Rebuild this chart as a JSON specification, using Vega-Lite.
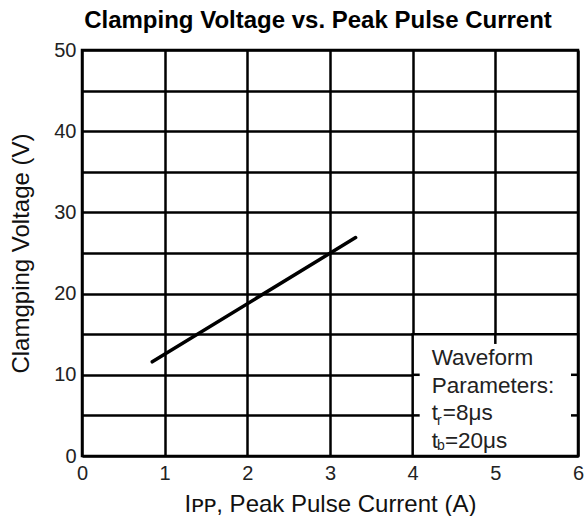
{
  "$schema": "https://vega.github.io/schema/vega-lite/v6.json",
  "width": 496,
  "height": 406,
  "autosize": {"type": "none"},
  "padding": {"left": 82, "top": 50, "right": 6, "bottom": 60},
  "background": "white",
  "config": {
    "view": {"stroke": "black", "strokeWidth": 2.5},
    "font": "Liberation Sans"
  },
  "title": {
    "text": "Clamping Voltage vs. Peak Pulse Current",
    "font": "Liberation Sans",
    "fontSize": 24,
    "fontWeight": "bold",
    "color": "black",
    "anchor": "middle",
    "dx": -12,
    "offset": 7
  },
  "layer": [
    {
      "data": {"values": [{"i": 0.85, "v": 11.6}, {"i": 3.31, "v": 26.9}]},
      "mark": {"type": "line", "color": "black", "strokeWidth": 3.5, "strokeCap": "round"},
      "encoding": {
        "x": {
          "field": "i", "type": "quantitative",
          "scale": {"domain": [0, 6], "nice": false, "zero": false},
          "axis": {
            "values": [0, 1, 2, 3, 4, 5, 6],
            "format": "d",
            "grid": true, "gridColor": "black", "gridWidth": 2.5, "gridOpacity": 1,
            "domain": false, "ticks": false,
            "labelFontSize": 20, "labelColor": "#222", "labelPadding": 7, "labelFlush": false,
            "title": "Iᴘᴘ, Peak Pulse Current (A)",
            "titleFontSize": 24, "titleFontWeight": "normal", "titleColor": "#111", "titlePadding": 9
          }
        },
        "y": {
          "field": "v", "type": "quantitative",
          "scale": {"domain": [0, 50], "nice": false, "zero": false},
          "axis": {
            "values": [0, 5, 10, 15, 20, 25, 30, 35, 40, 45, 50],
            "labelExpr": "datum.value % 10 == 0 ? datum.label : ''",
            "grid": true, "gridColor": "black", "gridWidth": 2.5, "gridOpacity": 1,
            "domain": false, "ticks": false,
            "labelFontSize": 20, "labelColor": "#222", "labelPadding": 6, "labelFlush": false,
            "title": "Clamgping Voltage (V)",
            "titleFontSize": 24, "titleFontWeight": "normal", "titleColor": "#111", "titlePadding": 20
          }
        }
      }
    },
    {
      "data": {"values": [{"x1": 4, "x2": 6, "y1": 0, "y2": 15}]},
      "mark": {"type": "rect", "fill": "white", "stroke": "black", "strokeWidth": 2.5},
      "encoding": {
        "x": {"field": "x1", "type": "quantitative"},
        "x2": {"field": "x2"},
        "y": {"field": "y1", "type": "quantitative"},
        "y2": {"field": "y2"}
      }
    },
    {
      "data": {"values": [
        {"x1": 5, "x2": 5, "y1": 15, "y2": 13.8},
        {"x1": 4, "x2": 4.085, "y1": 10, "y2": 10},
        {"x1": 4, "x2": 4.085, "y1": 5, "y2": 5},
        {"x1": 5.915, "x2": 6, "y1": 10, "y2": 10},
        {"x1": 5.915, "x2": 6, "y1": 5, "y2": 5}
      ]},
      "mark": {"type": "rule", "color": "black", "strokeWidth": 2.5},
      "encoding": {
        "x": {"field": "x1", "type": "quantitative"},
        "x2": {"field": "x2"},
        "y": {"field": "y1", "type": "quantitative"},
        "y2": {"field": "y2"}
      }
    },
    {
      "data": {"values": [
        {"t": "Waveform", "x": 4.23, "y": 11.2},
        {"t": "Parameters:", "x": 4.23, "y": 7.72},
        {"t": "t", "x": 4.23, "y": 4.4},
        {"t": "=8μs", "x": 4.365, "y": 4.4},
        {"t": "t", "x": 4.23, "y": 1.0},
        {"t": "=20μs", "x": 4.39, "y": 1.0}
      ]},
      "mark": {"type": "text", "align": "left", "baseline": "alphabetic", "fontSize": 22.5, "font": "Liberation Sans", "color": "#222"},
      "encoding": {
        "x": {"field": "x", "type": "quantitative"},
        "y": {"field": "y", "type": "quantitative"},
        "text": {"field": "t"}
      }
    },
    {
      "data": {"values": [
        {"t": "r", "x": 4.295, "y": 3.8},
        {"t": "b", "x": 4.295, "y": 0.75}
      ]},
      "mark": {"type": "text", "align": "left", "baseline": "alphabetic", "fontSize": 14, "font": "Liberation Sans", "color": "#222"},
      "encoding": {
        "x": {"field": "x", "type": "quantitative"},
        "y": {"field": "y", "type": "quantitative"},
        "text": {"field": "t"}
      }
    }
  ]
}
